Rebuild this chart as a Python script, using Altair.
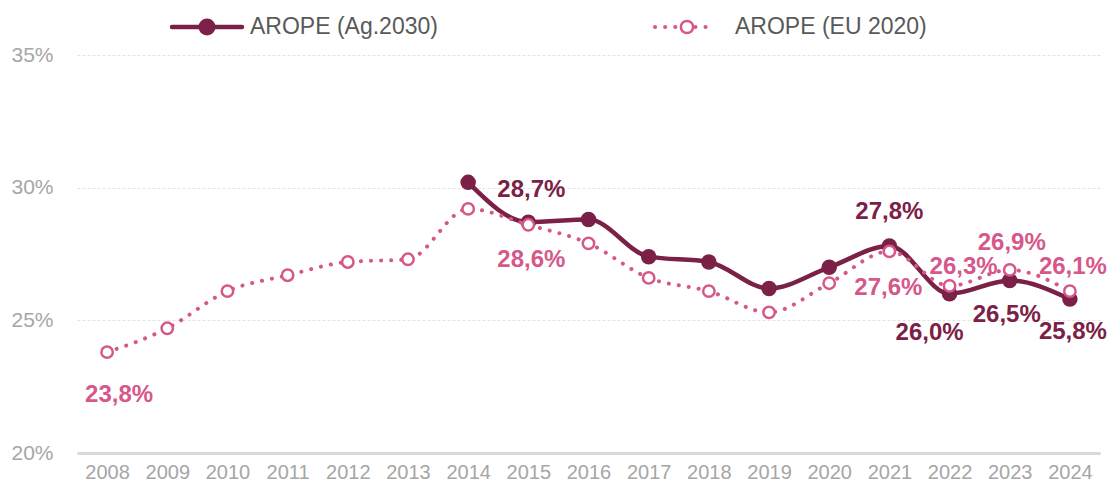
import altair as alt
import pandas as pd

# ---- data ----
years = list(range(2008, 2025))
eu2020_values = [23.8, 24.7, 26.1, 26.7, 27.2, 27.3, 29.2, 28.6, 27.9, 26.6,
                 26.1, 25.3, 26.4, 27.6, 26.3, 26.9, 26.1]
ag2030_years = list(range(2014, 2025))
ag2030_values = [30.2, 28.7, 28.8, 27.4, 27.2, 26.2, 27.0, 27.8, 26.0, 26.5, 25.8]
series_names = ["AROPE (Ag.2030)", "AROPE (EU 2020)"]
y_ticks = [20, 25, 30, 35]
ag2030_labelled_years = [2015, 2021, 2022, 2023, 2024]
eu2020_labelled_years = [2008, 2015, 2021, 2022, 2023, 2024]

# ---- styles ----
DARK = "#7B2046"
PINK = "#D6588B"
FONT = "Liberation Sans"
# label offsets (style, px) keyed by year
ag_offsets = {2015: (3, -32), 2021: (0, -34), 2022: (-20, 39), 2023: (-3, 34), 2024: (3, 33)}
eu_offsets = {2008: (12, 43), 2015: (3, 35), 2021: (-1, 37), 2022: (14, -19), 2023: (2, -27), 2024: (3, -24)}


def fmt(v):
    return f"{v:.1f}".replace(".", ",") + "%"


ag = pd.DataFrame({"year": ag2030_years, "value": ag2030_values})
ag["label"] = [fmt(v) for v in ag2030_values]
eu = pd.DataFrame({"year": years, "value": eu2020_values})
eu["label"] = [fmt(v) for v in eu2020_values]

x_enc = alt.X("year:O", title=None,
              scale=alt.Scale(type="point", padding=0.5, domain=years),
              axis=alt.Axis(labelAngle=0))
y_enc = alt.Y("value:Q", title=None,
              scale=alt.Scale(domain=[20, 35], nice=False, zero=False),
              axis=alt.Axis(values=y_ticks, labelExpr="datum.value + '%'"))

ag_line = alt.Chart(ag).mark_line(color=DARK, strokeWidth=4.5, interpolate="monotone").encode(x=x_enc, y=y_enc)
ag_pts = alt.Chart(ag).mark_point(filled=True, color=DARK, size=240, opacity=1).encode(x=x_enc, y=y_enc)
eu_line = alt.Chart(eu).mark_line(color=PINK, strokeWidth=4, strokeDash=[0.1, 10], strokeCap="round",
                                  interpolate="monotone").encode(x=x_enc, y=y_enc)
eu_pts = alt.Chart(eu).mark_point(filled=True, fill="white", stroke=PINK, strokeWidth=2.5, size=130,
                                  opacity=1).encode(x=x_enc, y=y_enc)

label_layers = []
for yr in ag2030_labelled_years:
    dx, dy = ag_offsets[yr]
    label_layers.append(
        alt.Chart(ag).transform_filter(alt.datum.year == yr)
        .mark_text(font=FONT, fontSize=24, fontWeight="bold", color=DARK, dx=dx, dy=dy,
                   align="center", baseline="middle")
        .encode(x=x_enc, y=y_enc, text="label:N"))
for yr in eu2020_labelled_years:
    dx, dy = eu_offsets[yr]
    label_layers.append(
        alt.Chart(eu).transform_filter(alt.datum.year == yr)
        .mark_text(font=FONT, fontSize=24, fontWeight="bold", color=PINK, dx=dx, dy=dy,
                   align="center", baseline="middle")
        .encode(x=x_enc, y=y_enc, text="label:N"))

# ---- manual legend ----
leg = pd.DataFrame({"name": series_names})
leg_dark = leg[leg.name == series_names[0]]
leg_pink = leg[leg.name == series_names[1]]
legend_layers = [
    alt.Chart(leg_dark).mark_rule(color=DARK, strokeWidth=4.5, strokeCap="round").encode(
        x=alt.value(95), x2=alt.value(165), y=alt.value(-28)),
    alt.Chart(leg_dark).mark_point(filled=True, color=DARK, size=290, opacity=1).encode(
        x=alt.value(130), y=alt.value(-28)),
    alt.Chart(leg_dark).mark_text(font=FONT, fontSize=23, color="#595959", align="left",
                                  baseline="middle").encode(
        x=alt.value(173), y=alt.value(-28), text="name:N"),
    alt.Chart(leg_pink).mark_rule(color=PINK, strokeWidth=4, strokeDash=[0.1, 10], strokeCap="round").encode(
        x=alt.value(578), x2=alt.value(638), y=alt.value(-28)),
    alt.Chart(leg_pink).mark_point(filled=True, fill="white", stroke=PINK, strokeWidth=2.5, size=150,
                                   opacity=1).encode(x=alt.value(610), y=alt.value(-28)),
    alt.Chart(leg_pink).mark_text(font=FONT, fontSize=23, color="#595959", align="left",
                                  baseline="middle").encode(
        x=alt.value(658), y=alt.value(-28), text="name:N"),
]

chart = alt.layer(ag_line, ag_pts, eu_line, eu_pts, *label_layers, *legend_layers).properties(
    width=1023, height=398,
    autosize=alt.AutoSizeParams(type="none"),
    padding={"left": 69, "top": 47, "right": 10, "bottom": 29},
).configure_view(stroke=None).configure_axisX(
    domainColor="#d9d9d9", domainWidth=3, ticks=False, labelPadding=9,
    labelFont=FONT, labelFontSize=20, labelColor="#a6a6a6", grid=False,
).configure_axisY(
    domain=False, ticks=False, labelPadding=24, labelFont=FONT, labelFontSize=21,
    labelColor="#a6a6a6", gridColor="#e3e3e3", gridDash=[3, 2], gridWidth=1,
)

chart.save("out.html", embed_options={"renderer": "svg", "actions": False})
